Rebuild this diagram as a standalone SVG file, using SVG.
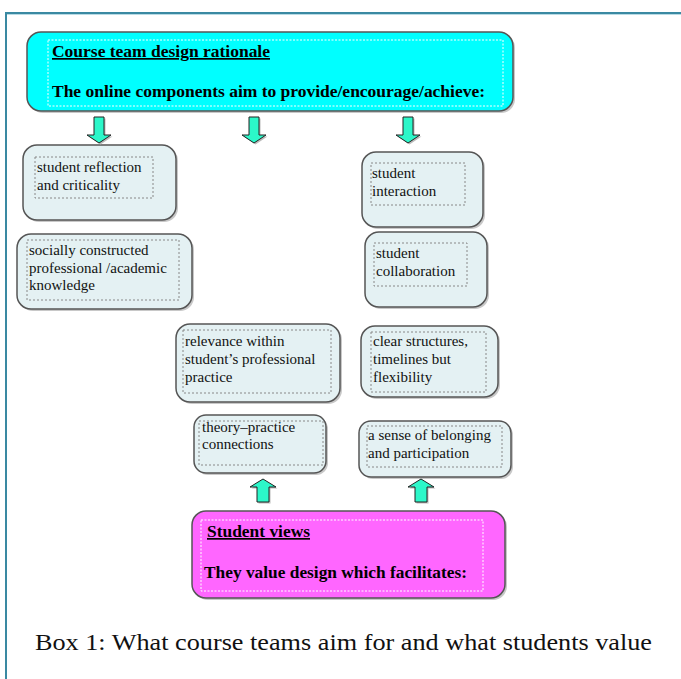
<svg xmlns="http://www.w3.org/2000/svg" width="681" height="679" viewBox="0 0 681 679">
<defs>
<style>
.box{fill:#e4f1f3;stroke:#555;stroke-width:1.5}
.sh{fill:#c8c8c8}
.dot{fill:none;stroke:#888;stroke-width:1;stroke-dasharray:2,2}
.dotw{fill:none;stroke:#fff;stroke-width:1;stroke-dasharray:2,1.5}
.t{font-family:"Liberation Serif","Times New Roman",serif;font-size:15px;fill:#111}
.b{font-family:"Liberation Serif","Times New Roman",serif;font-size:17px;font-weight:bold;fill:#000}
.arr{fill:#2cf7c9;stroke:#222;stroke-width:1}
.ash{fill:#bbb}
</style>
</defs>
<rect width="681" height="679" fill="#fff"/>
<g id="frame">
<line x1="5" y1="13" x2="681" y2="13" stroke="#3a89a2" stroke-width="2"/>
<line x1="5" y1="14.5" x2="681" y2="14.5" stroke="#b8dbe5" stroke-width="1"/>
<line x1="6" y1="13" x2="6" y2="679" stroke="#3a89a2" stroke-width="2"/>
</g>
<g id="top">
<rect x="29" y="34" width="486" height="79" rx="14" class="sh"/>
<rect x="27" y="32" width="486" height="79" rx="14" fill="#00ffff" stroke="#555" stroke-width="1.5"/>
<rect x="48" y="40" width="455" height="66" class="dotw"/>
<text x="52" y="57" class="b" text-decoration="underline" textLength="218" lengthAdjust="spacingAndGlyphs">Course team design rationale</text>
<text x="52" y="97" class="b" textLength="433" lengthAdjust="spacingAndGlyphs">The online components aim to provide/encourage/achieve:</text>
</g>
<g id="n1">
<rect x="25" y="147" width="153" height="75" rx="14" class="sh"/>
<rect x="23" y="145" width="153" height="75" rx="14" class="box"/>
<rect x="35" y="157" width="118" height="41" class="dot"/>
<text class="t"><tspan x="37" y="172">student reflection</tspan><tspan x="37" y="190">and criticality</tspan></text>
</g>
<g id="n2">
<rect x="19" y="236" width="175" height="75" rx="14" class="sh"/>
<rect x="17" y="234" width="175" height="75" rx="14" class="box"/>
<rect x="27" y="240" width="152" height="60" class="dot"/>
<text class="t"><tspan x="29" y="255">socially constructed</tspan><tspan x="29" y="273">professional /academic</tspan><tspan x="29" y="290">knowledge</tspan></text>
</g>
<g id="n3">
<rect x="364" y="154" width="121" height="75" rx="14" class="sh"/>
<rect x="362" y="152" width="121" height="75" rx="14" class="box"/>
<rect x="371" y="163" width="94" height="42" class="dot"/>
<text class="t"><tspan x="372" y="178">student</tspan><tspan x="372" y="196">interaction</tspan></text>
</g>
<g id="n4">
<rect x="367" y="234" width="122" height="75" rx="14" class="sh"/>
<rect x="365" y="232" width="122" height="75" rx="14" class="box"/>
<rect x="374" y="243" width="93" height="43" class="dot"/>
<text class="t"><tspan x="376" y="258">student</tspan><tspan x="376" y="276">collaboration</tspan></text>
</g>
<g id="n5">
<rect x="178" y="326" width="164" height="78" rx="14" class="sh"/>
<rect x="176" y="324" width="164" height="78" rx="14" class="box"/>
<rect x="183" y="330" width="148" height="63" class="dot"/>
<text class="t"><tspan x="185" y="346">relevance within</tspan><tspan x="185" y="364">student’s professional</tspan><tspan x="185" y="382">practice</tspan></text>
</g>
<g id="n6">
<rect x="363" y="328" width="137" height="71" rx="14" class="sh"/>
<rect x="361" y="326" width="137" height="71" rx="14" class="box"/>
<rect x="371" y="332" width="115" height="60" class="dot"/>
<text class="t"><tspan x="373" y="346">clear structures,</tspan><tspan x="373" y="364">timelines but</tspan><tspan x="373" y="382">flexibility</tspan></text>
</g>
<g id="n7">
<rect x="196" y="417" width="132" height="58" rx="12" class="sh"/>
<rect x="194" y="415" width="132" height="58" rx="12" class="box"/>
<rect x="199" y="421" width="124" height="44" class="dot"/>
<text class="t"><tspan x="202" y="432">theory–practice</tspan><tspan x="202" y="449">connections</tspan></text>
</g>
<g id="n8">
<rect x="361" y="423" width="152" height="56" rx="12" class="sh"/>
<rect x="359" y="421" width="152" height="56" rx="12" class="box"/>
<rect x="367" y="426" width="135" height="41" class="dot"/>
<text class="t"><tspan x="368" y="440">a sense of belonging</tspan><tspan x="368" y="458">and participation</tspan></text>
</g>
<g id="bottom">
<rect x="194" y="513" width="313" height="87" rx="14" class="sh"/>
<rect x="192" y="511" width="313" height="87" rx="14" fill="#ff66ff" stroke="#555" stroke-width="1.5"/>
<rect x="201" y="520" width="282" height="71" class="dotw"/>
<text x="207" y="537" class="b" text-decoration="underline" textLength="103" lengthAdjust="spacingAndGlyphs">Student views</text>
<text x="204" y="578" class="b" textLength="263" lengthAdjust="spacingAndGlyphs">They value design which facilitates:</text>
</g>
<g id="connectors">
<g transform="translate(99,117)">
<path d="M-5,0 h10 v18 h7 l-12,8 l-12,-8 h7z" class="ash" transform="translate(1.5,1.5)"/>
<path d="M-5,0 h10 v18 h7 l-12,8 l-12,-8 h7z" class="arr"/>
</g>
<g transform="translate(254,117)">
<path d="M-5,0 h10 v18 h7 l-12,8 l-12,-8 h7z" class="ash" transform="translate(1.5,1.5)"/>
<path d="M-5,0 h10 v18 h7 l-12,8 l-12,-8 h7z" class="arr"/>
</g>
<g transform="translate(408,117)">
<path d="M-5,0 h10 v18 h7 l-12,8 l-12,-8 h7z" class="ash" transform="translate(1.5,1.5)"/>
<path d="M-5,0 h10 v18 h7 l-12,8 l-12,-8 h7z" class="arr"/>
</g>
<g transform="translate(263,479)">
<path d="M0,0 l13,8 h-7 v15 h-12 v-15 h-7z" class="ash" transform="translate(1.5,1.5)"/>
<path d="M0,0 l13,8 h-7 v15 h-12 v-15 h-7z" class="arr"/>
</g>
<g transform="translate(421,479)">
<path d="M0,0 l13,8 h-7 v15 h-12 v-15 h-7z" class="ash" transform="translate(1.5,1.5)"/>
<path d="M0,0 l13,8 h-7 v15 h-12 v-15 h-7z" class="arr"/>
</g>
</g>
<text x="35" y="650" font-family="'Liberation Serif','Times New Roman',serif" font-size="23" fill="#111" textLength="617" lengthAdjust="spacingAndGlyphs">Box 1: What course teams aim for and what students value</text>
</svg>
